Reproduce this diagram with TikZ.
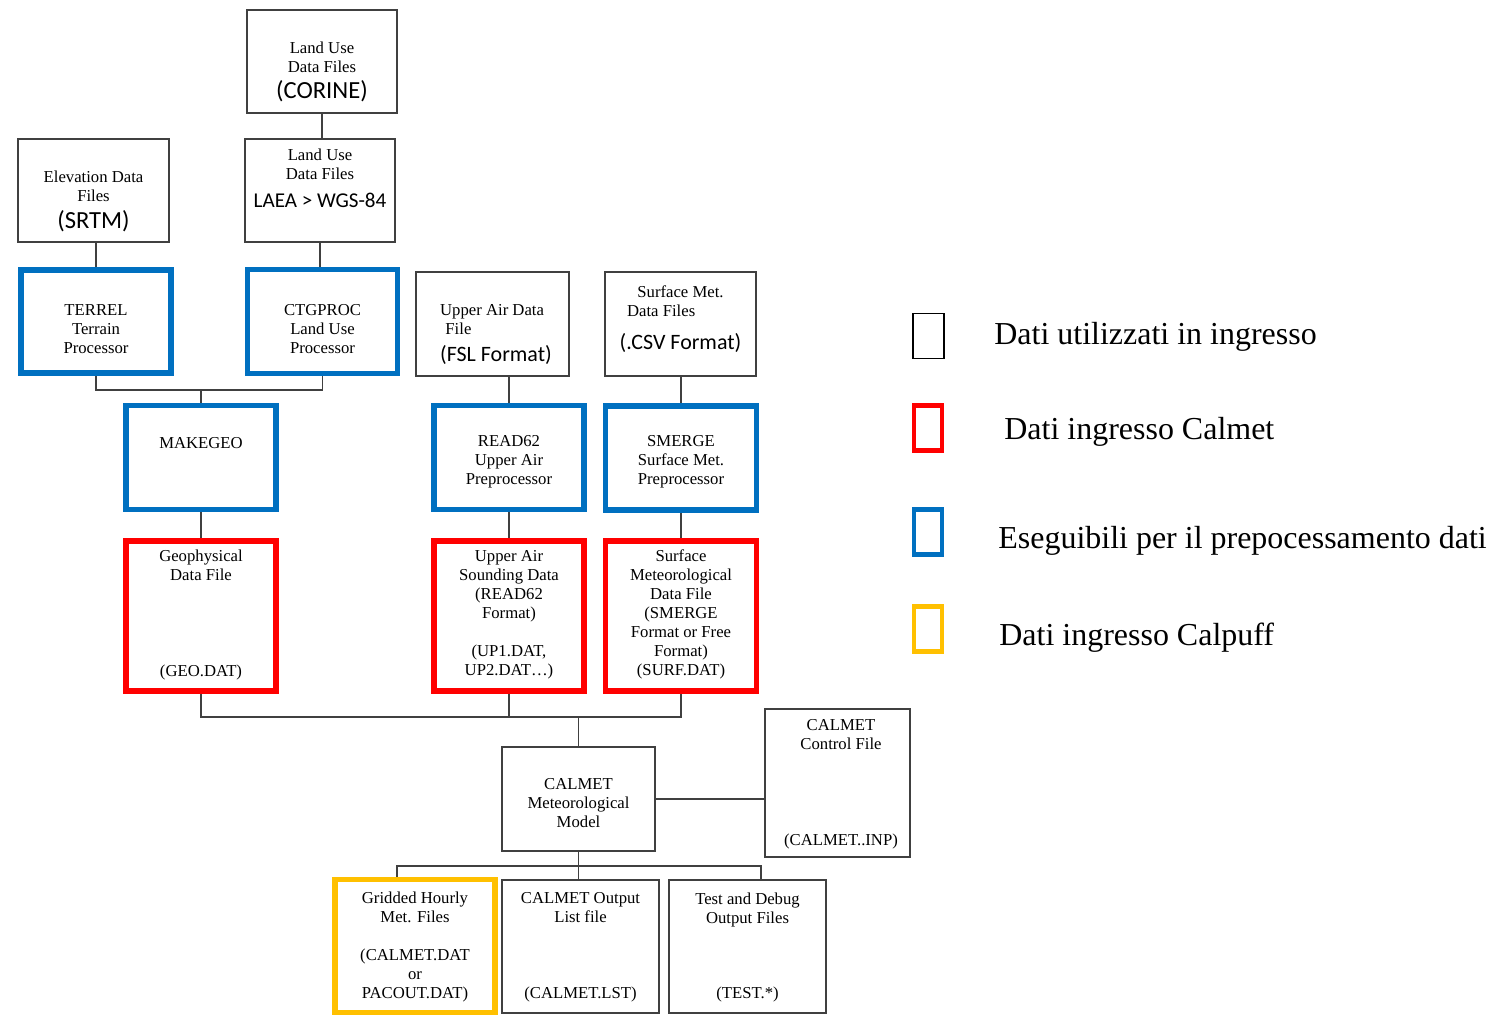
\documentclass[tikz,border=0pt]{standalone}
\usepackage{fontspec}
\setmainfont{Liberation Serif}
\newfontfamily\calibfont{Carlito}
\usepackage{xcolor}
\usepackage{tikz}
\usetikzlibrary{calc, positioning}

\definecolor{exeblue}{RGB}{0,112,192}
\definecolor{calred}{RGB}{255,0,0}
\definecolor{puffyel}{RGB}{255,192,0}
\newcommand{\sansl}[2]{{\calibfont\fontsize{#1}{#1}\selectfont #2}}

\begin{document}
\begin{tikzpicture}[x=0.02cm, y=-0.02cm,
    inbox/.style={draw=black!75, line width=1pt, minimum width=3cm, minimum height=2.06cm, inner sep=0pt},
    exebox/.style={inbox, draw=exeblue, line width=3.3pt},
    metbox/.style={inbox, draw=calred, line width=3.3pt},
    puffbox/.style={inbox, draw=puffyel, line width=3.3pt},
    txt/.style={align=center, font=\fontsize{9.5}{10.8}\selectfont, inner sep=0pt},
    wire/.style={draw=black!75, line width=1pt},
    key/.style={minimum width=0.56cm, minimum height=0.9cm, inner sep=0pt, line width=2.8pt},
    keytxt/.style={anchor=base west, font=\fontsize{18.2}{21}\selectfont, inner sep=0pt}
]
    \useasboundingbox (0,0) rectangle (1510,1015);

    % input data
    \node[inbox] (corine) at (322,61.5) {};
    \node[txt] (corine-l) at ($(corine)+(0,10)$) {Land Use\\Data Files\\[4pt]\sansl{14}{(CORINE)}};
    \node[inbox] (lu2) at (320,190.5) {};
    \node[txt] (lu2-l) at ($(lu2)+(0,-12.5)$) {Land Use\\Data Files\\[5pt]\sansl{12}{LAEA > WGS-84}};
    \node[inbox, minimum width=3.02cm] (elev) at (93.5,190.5) {};
    \node[txt] (elev-l) at ($(elev)+(0,11)$) {Elevation Data\\Files\\[4.5pt]\sansl{14}{(SRTM)}};
    \node[inbox, minimum width=3.06cm, minimum height=2.08cm] (upfile) at (492.5,324) {};
    \node[txt, align=left] (upfile-l) at ($(upfile)+(3.5,10.5)$) {Upper Air Data\\\hspace*{3pt}File\\[4.5pt]\sansl{12.5}{(FSL Format)}};
    \node[inbox, minimum width=3.02cm, minimum height=2.08cm] (sfile) at (680.5,324) {};
    \node[txt] (sfile-l) at ($(sfile)+(0,-5)$) {Surface Met.\\Data Files\rule{22pt}{0pt}\\[8pt]\sansl{12.5}{(.CSV Format)}};

    % preprocessors
    \node[exebox] (terrel) at (96,321.5) {};
    \node[txt] (terrel-l) at ($(terrel)+(0,7.5)$) {TERREL\\Terrain\\Processor};
    \node[exebox, minimum height=2.08cm] (ctgproc) at (322.5,321.5) {};
    \node[txt] (ctgproc-l) at ($(ctgproc)+(0,7.5)$) {CTGPROC\\Land Use\\Processor};
    \node[exebox, minimum height=2.08cm] (makegeo) at (201,457.5) {};
    \node[txt] (makegeo-l) at ($(makegeo)+(0,-14)$) {MAKEGEO};
    \node[exebox, minimum height=2.08cm] (read62) at (509,457.5) {};
    \node[txt] (read62-l) at ($(read62)+(0,4.5)$) {READ62\\Upper Air\\Preprocessor};
    \node[exebox, minimum width=3.02cm, minimum height=2.08cm] (smerge) at (681,458) {};
    \node[txt] (smerge-l) at ($(smerge)+(0,4)$) {SMERGE\\Surface Met.\\Preprocessor};

    % calmet input
    \node[metbox, minimum height=2.99cm] (geo) at (201,616) {};
    \node[txt] (geo-l) at ($(geo)+(0,-1)$) {Geophysical\\Data File\\[43.8pt](GEO.DAT)};
    \node[metbox, minimum height=3cm] (sounding) at (509,616) {};
    \node[txt] (sounding-l) at ($(sounding)+(0,-1.5)$) {Upper Air\\Sounding Data\\(READ62\\Format)\\[10.8pt](UP1.DAT,\\UP2.DAT\ldots)};
    \node[metbox, minimum width=3.02cm, minimum height=3cm] (surfmet) at (681,616) {};
    \node[txt] (surfmet-l) at ($(surfmet)+(0,-1.5)$) {Surface\\Meteorological\\Data File\\(SMERGE\\Format or Free\\Format)\\(SURF.DAT)};

    % model and outputs
    \node[inbox, minimum width=3.06cm, minimum height=2.08cm] (calmet) at (578.5,799) {};
    \node[txt] (calmet-l) at ($(calmet)+(0,4.5)$) {CALMET\\Meteorological\\Model};
    \node[inbox, minimum width=2.9cm, minimum height=2.96cm] (control) at (837.5,783) {};
    \node[txt] (control-l) at ($(control)+(3.5,1)$) {CALMET\\Control File\\[43.8pt](CALMET..INP)};
    \node[puffbox, minimum width=3.2cm, minimum height=2.66cm] (gridded) at (415,946) {};
    \node[txt] (gridded-l) at ($(gridded)+(0,1)$) {Gridded Hourly\\Met. Files\\[10.8pt](CALMET.DAT\\or\\PACOUT.DAT)};
    \node[inbox, minimum width=3.14cm, minimum height=2.66cm] (outlst) at (580.5,946.5) {};
    \node[txt] (outlst-l) at ($(outlst)+(0,1)$) {CALMET Output\\List file\\[32.4pt](CALMET.LST)};
    \node[inbox, minimum width=3.14cm, minimum height=2.66cm] (testdbg) at (747.5,946.5) {};
    \node[txt] (testdbg-l) at ($(testdbg)+(0,1)$) {Test and Debug\\Output Files\\[32.4pt](TEST.*)};

    % connectors
    \coordinate (geobus) at (200,390);
    \coordinate (metbus) at (579,717);
    \coordinate (outl) at (397,866);
    \coordinate (outr) at (761,866);
    \draw[wire] (corine.south) -- (corine.south |- lu2.north);
    \draw[wire] (terrel.north) -- (terrel.north |- elev.south);
    \draw[wire] (lu2.south) -- (lu2.south |- ctgproc.north);
    \draw[wire] (terrel.south) -- (terrel.south |- geobus) -- (ctgproc.south |- geobus) -- (ctgproc.south);
    \draw[wire] (geobus -| makegeo.north) -- (makegeo.north);
    \draw[wire] (read62.north) -- (read62.north |- upfile.south);
    \draw[wire] (smerge.north) -- (smerge.north |- sfile.south);
    \draw[wire] (makegeo) -- (geo);
    \draw[wire] (read62) -- (sounding);
    \draw[wire] (smerge) -- (surfmet);
    \draw[wire] (geo.south) -- (geo.south |- metbus) -- (surfmet.south |- metbus) -- (surfmet.south);
    \draw[wire] (sounding.south) -- (sounding.south |- metbus);
    \draw[wire] (metbus -| calmet.north) -- (calmet.north);
    \draw[wire] (calmet.east) -- (calmet.east -| control.west);
    \draw[wire] (calmet.south) -- (calmet.south |- outlst.north);
    \draw[wire] (outl |- gridded.north) -- (outl) -- (outr) -- (outr |- testdbg.north);

    % legend
    \node[key, draw=black, line width=1.1pt, minimum width=0.62cm] (key-in) at (928.5,336) {};
    \node[keytxt] (key-in-l) at (994,344) {Dati utilizzati in ingresso};
    \node[key, draw=calred] (key-met) at (928,428) {};
    \node[keytxt] (key-met-l) at (1004,439) {Dati ingresso Calmet};
    \node[key, draw=exeblue] (key-exe) at (928,532) {};
    \node[keytxt] (key-exe-l) at (998,548) {Eseguibili per il prepocessamento dati};
    \node[key, draw=puffyel] (key-puff) at (928,629) {};
    \node[keytxt] (key-puff-l) at (999,645) {Dati ingresso Calpuff};
\end{tikzpicture}
\end{document}
